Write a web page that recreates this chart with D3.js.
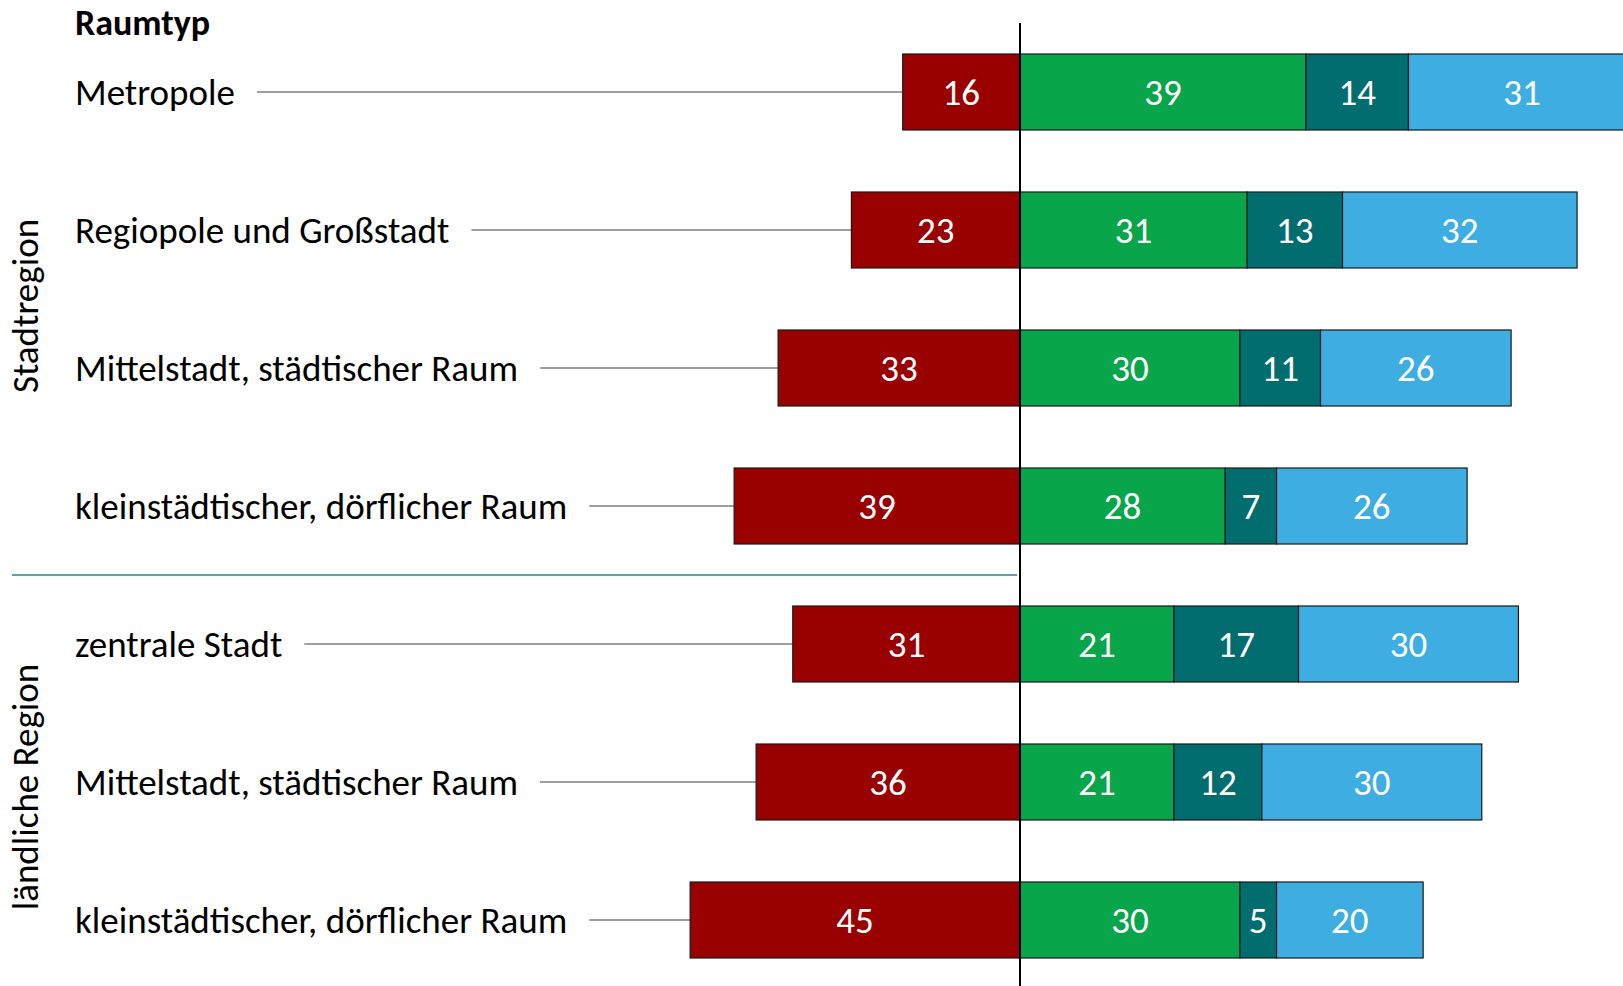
<!doctype html>
<html>
<head>
<meta charset="UTF-8">
<title>Raumtyp</title>
<style>
  body { margin: 0; background: #fff; }
  text { font-family: Calibri, Carlito, Lato, sans-serif; }
</style>
</head>
<body>
<div id="chart"></div>
<script src="https://cdn.jsdelivr.net/npm/d3@7"></script>
<script>
// data (percent)
const categories = ["Metropole", "Regiopole und Großstadt", "Mittelstadt, städtischer Raum",
  "kleinstädtischer, dörflicher Raum", "zentrale Stadt", "Mittelstadt, städtischer Raum",
  "kleinstädtischer, dörflicher Raum"];
const regions = ["Stadtregion", "ländliche Region"];
const regionOf = [0, 0, 0, 0, 1, 1, 1];
const redValues = [16, 23, 33, 39, 31, 36, 45];     // drawn to the left of zero
const greenValues = [39, 31, 30, 28, 21, 21, 30];
const tealValues = [14, 13, 11, 7, 17, 12, 5];
const blueValues = [31, 32, 26, 26, 30, 30, 20];

const colors = { red: "#990000", green: "#09a54b", teal: "#016d6e", blue: "#3eade2" };

var width = 1623, height = 986;

var svg = d3.select("#chart")
  .append("svg")
    .attr("width", width)
    .attr("height", height);

// x: 0 sits at 1020px
const x = d3.scaleLinear()
  .domain([-50, 80])
  .range([1020 - 50 * 7.33, 1020 + 80 * 7.33]);

// y: row centres
const y = d3.scalePoint()
  .domain(d3.range(categories.length))
  .range([92, 920]);
const barH = 76;

// build segments
var segs = [];
categories.forEach(function(c, i) {
  segs.push({ row: i, x0: -redValues[i], x1: 0, v: redValues[i], c: colors.red });
  var s = 0;
  [[greenValues, colors.green], [tealValues, colors.teal], [blueValues, colors.blue]].forEach(function(p) {
    segs.push({ row: i, x0: s, x1: s + p[0][i], v: p[0][i], c: p[1] });
    s += p[0][i];
  });
});

// title
svg.append("text")
  .attr("x", 75).attr("y", 22)
  .attr("dy", "0.35em")
  .style("font-size", "36px").style("font-weight", "bold")
  .text("Raumtyp");

// category labels
var labels = svg.selectAll(".lab")
  .data(categories)
  .join("text")
    .attr("class", "lab")
    .attr("x", 75)
    .attr("y", function(d, i) { return y(i); })
    .attr("dy", "0.35em")
    .style("font-size", "37px")
    .style("fill", "#000")
    .text(function(d) { return d; });

// leader lines
labels.each(function(d, i) {
  var bb = this.getBBox();
  svg.append("line")
    .attr("x1", bb.x + bb.width + 22)
    .attr("x2", x(-redValues[i]))
    .attr("y1", y(i)).attr("y2", y(i))
    .attr("stroke", "#7f7f7f")
    .attr("stroke-width", 1.5);
});

// region separator
svg.append("line")
  .attr("x1", 12).attr("x2", x(0) - 3)
  .attr("y1", (y(3) + y(4)) / 2).attr("y2", (y(3) + y(4)) / 2)
  .attr("stroke", "#5aa3a3")
  .attr("stroke-width", 2);

// region labels (rotated)
regions.forEach(function(r, k) {
  var cy = k === 0 ? 306 : 787;
  svg.append("text")
    .attr("transform", "translate(25," + cy + ") rotate(-90)")
    .attr("text-anchor", "middle")
    .attr("dy", "0.35em")
    .style("font-size", "37px")
    .text(r);
});

// bars
svg.selectAll(".seg")
  .data(segs)
  .join("rect")
    .attr("class", "seg")
    .attr("x", function(d) { return x(d.x0); })
    .attr("width", function(d) { return x(d.x1) - x(d.x0); })
    .attr("y", function(d) { return y(d.row) - barH / 2; })
    .attr("height", barH)
    .attr("fill", function(d) { return d.c; })
    .attr("stroke", "#1a1a1a")
    .attr("stroke-width", 1.2);

// value labels
svg.selectAll(".val")
  .data(segs)
  .join("text")
    .attr("class", "val")
    .attr("x", function(d) { return (x(d.x0) + x(d.x1)) / 2; })
    .attr("y", function(d) { return y(d.row); })
    .attr("dy", "0.36em")
    .attr("text-anchor", "middle")
    .style("font-size", "37px")
    .style("fill", "#fff")
    .text(function(d) { return d.v; });

// zero line
svg.append("line")
  .attr("x1", x(0)).attr("x2", x(0))
  .attr("y1", 23).attr("y2", height)
  .attr("stroke", "#000")
  .attr("stroke-width", 2);
</script>
</body>
</html>
